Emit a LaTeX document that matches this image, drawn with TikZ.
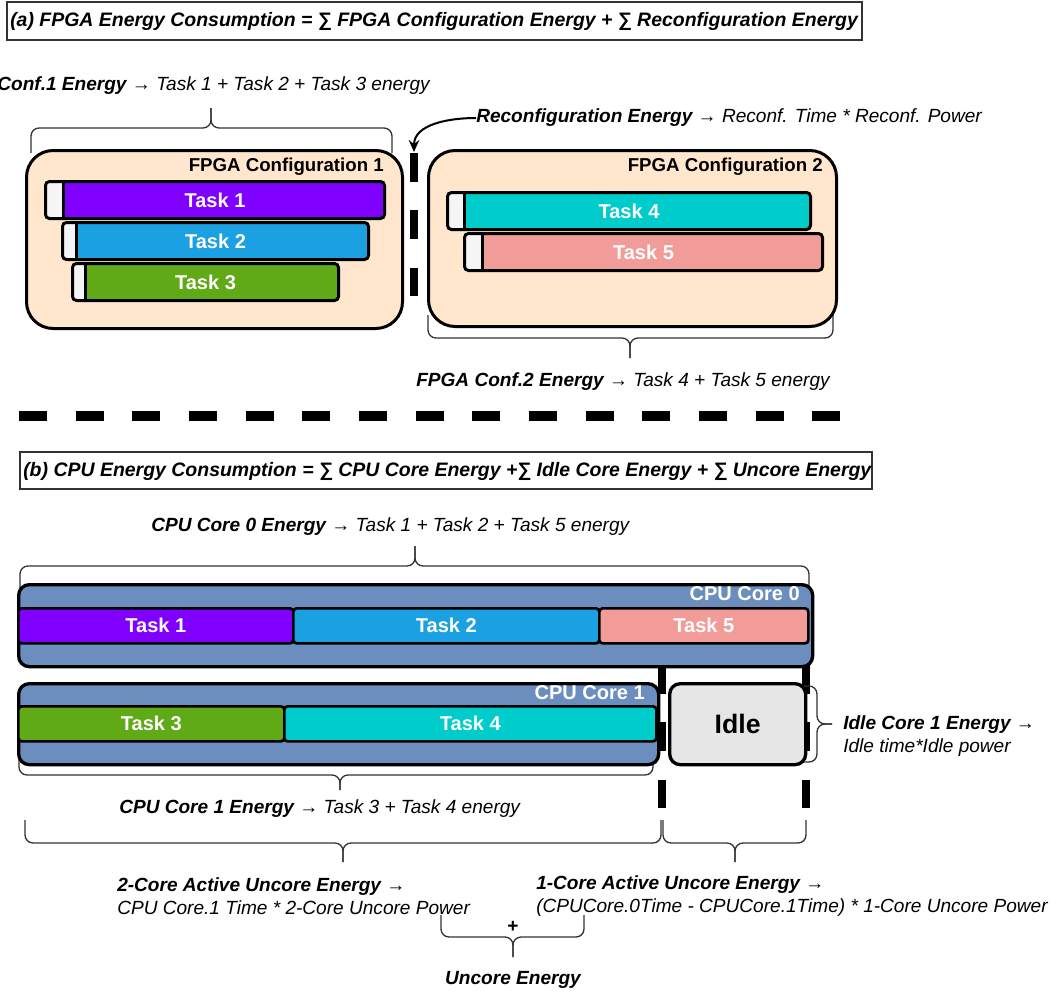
\documentclass[tikz,border=0pt]{standalone}
\usepackage{fontspec}
\setmainfont{Liberation Sans}
\usetikzlibrary{arrows.meta}
\definecolor{Peach}{HTML}{FFE6CC}
\definecolor{Purple}{HTML}{7F00FF}
\definecolor{SkyBlue}{HTML}{1BA1E2}
\definecolor{Grass}{HTML}{60A917}
\definecolor{Teal}{HTML}{00CCCC}
\definecolor{Salmon}{HTML}{F19C99}
\definecolor{CoreBlue}{HTML}{6C8EBF}
\definecolor{IdleGray}{HTML}{E6E6E6}
\definecolor{Stub}{HTML}{F5F5F5}
\newcommand{\px}{0.75pt}

\begin{document}
\begin{tikzpicture}[x=0.75pt, y=-0.75pt,
      frame/.style={draw=black!80, line width=1pt},
      ttl/.style={font=\bfseries\itshape\fontsize{14.6}{17}\selectfont, inner sep=0pt},
      ann/.style={font=\itshape\fontsize{14.3}{17.3}\selectfont, inner sep=0pt, align=left},
      brc/.style={draw=black!80, line width=1pt, rounded corners=6pt},
      cfg/.style={draw, fill=Peach, line width=2.25pt, rounded corners=20pt, anchor=north west,
                  inner sep=0pt},
      cfglbl/.style={font=\bfseries\fontsize{14}{16}\selectfont, inner sep=0pt, anchor=east},
      fbar/.style={draw, line width=2.25pt, rounded corners=3pt, anchor=north west, inner sep=0pt,
                  minimum height=37*\px, text=white, font=\bfseries\fontsize{15}{18}\selectfont,
                  path picture={
                    \fill[Stub] (path picture bounding box.north west)
                      rectangle ([xshift=#1*\px]path picture bounding box.south west);
                    \draw[line width=2pt] ([xshift=#1*\px]path picture bounding box.north west)
                      -- ([xshift=#1*\px]path picture bounding box.south west);}},
      core/.style={draw, fill=CoreBlue, line width=2.5pt, rounded corners=8pt, anchor=north west,
                  inner sep=0pt, minimum height=81*\px},
      corelbl/.style={text=white, font=\bfseries\fontsize{15}{18}\selectfont, inner sep=0pt, anchor=east},
      cbar/.style={draw, line width=2pt, rounded corners=2.5pt, anchor=north west, inner sep=0pt,
                  minimum height=35*\px, text=white, font=\bfseries\fontsize{15}{18}\selectfont},
      vdash/.style={line width=6pt, dash pattern=on 21.5pt off 21.5pt},
      hdash/.style={line width=7pt, dash pattern=on 21pt off 21.5pt},
      ar/.style={-{Stealth[length=9pt, width=8pt, inset=3pt]}, line width=1.5pt}]

    \useasboundingbox (0,0) rectangle (1059,992);

    % (a) FPGA part
    \draw[frame] (7,2) rectangle (862,40);
    \node[ttl, anchor=west] (ta) at (10,21) {(a) FPGA Energy Consumption = ∑ FPGA Configuration Energy + ∑ Reconfiguration Energy};

    \node[ann, anchor=east] (e1) at (430,86) {\textbf{Conf.1 Energy} → Task 1 + Task 2 + Task 3 energy};
    \draw[brc] (31,153) |- (211,128) -- (211,108);
    \draw[brc] (392,153) |- (211,128) -- (211,108);

    \node[cfg, minimum width=376*\px, minimum height=178*\px] (c1) at (25,149) {};
    \node[cfglbl] (c1l) at (384,167) {FPGA Configuration 1};
    \node[fbar=18, fill=Purple, minimum width=339*\px] (f1) at (44,180) {Task 1};
    \node[fbar=14, fill=SkyBlue, minimum width=306*\px] (f2) at (61,221) {Task 2};
    \node[fbar=13, fill=Grass, minimum width=266*\px] (f3) at (71,262) {Task 3};

    \draw[vdash] (414,153) -- (414,298);
    \coordinate (rc) at (414,152);
    \node[ann, anchor=west] (rt) at (476,118) {\textbf{Reconfiguration Energy} → Reconf. Time * Reconf. Power};
    \draw[ar] (rt.west) to[out=180, in=90] (rc);

    \draw[brc] (428,315) |- (630,338) -- (630,358);
    \draw[brc] (833,315) |- (630,338) -- (630,358);
    \node[cfg, minimum width=408*\px, minimum height=176*\px] (c2) at (427,149) {};
    \node[cfglbl] (c2l) at (823,167) {FPGA Configuration 2};
    \node[fbar=17, fill=Teal, minimum width=363*\px] (f4) at (446,191) {Task 4};
    \node[fbar=18, fill=Salmon, minimum width=358*\px] (f5) at (463,232) {Task 5};
    \node[ann, anchor=west] (e2) at (416,382) {\textbf{FPGA Conf.2 Energy} → Task 4 + Task 5 energy};

    \draw[hdash] (19,416) -- (840,416);

    % (b) CPU part
    \draw[frame] (20,452) rectangle (872,489);
    \node[ttl, anchor=west] (tb) at (23,471) {(b) CPU Energy Consumption = ∑ CPU Core Energy +∑ Idle Core Energy + ∑ Uncore Energy};

    \node[ann, anchor=west] (e0) at (151,527) {\textbf{CPU Core 0 Energy} → Task 1 + Task 2 + Task 5 energy};
    \draw[brc] (20,590) |- (415,566) -- (415,546);
    \draw[brc] (809,590) |- (415,566) -- (415,546);

    \draw[vdash] (662,665) -- (662,810);
    \draw[vdash] (806,665) -- (806,810);

    \draw[brc] (19,760) |- (340,775) -- (340,790);
    \draw[brc] (653,760) |- (340,775) -- (340,790);

    \node[core, minimum width=794*\px, minimum height=82*\px] (k0) at (17,583) {};
    \node[corelbl] (k0l) at (800,594) {CPU Core 0};
    \node[cbar, fill=Purple, minimum width=275*\px] (p1) at (17,607) {Task 1};
    \node[cbar, fill=SkyBlue, minimum width=306*\px] (p2) at (292,607) {Task 2};
    \node[cbar, fill=Salmon, minimum width=209*\px] (p5) at (598,607) {Task 5};

    \node[core, minimum width=640*\px] (k1) at (17,682) {};
    \node[corelbl] (k1l) at (645,693) {CPU Core 1};
    \node[cbar, fill=Grass, minimum width=266*\px] (p3) at (17,705) {Task 3};
    \node[cbar, fill=Teal, minimum width=372*\px] (p4) at (283,705) {Task 4};

    \node[core, fill=IdleGray, minimum width=136*\px, font=\bfseries\fontsize{20}{24}\selectfont] (idle) at (668,682) {Idle};

    \draw[brc] (804,686) -| (817,724) -- (832,724);
    \draw[brc] (804,762) -| (817,724) -- (832,724);
    \node[ann, anchor=west] (ei) at (843,736) {\textbf{Idle Core 1 Energy} →\\Idle time*Idle power};

    \node[ann, anchor=west] (e1c) at (119,809) {\textbf{CPU Core 1 Energy} → Task 3 + Task 4 energy};

    \draw[brc] (25,820) |- (343,843) -- (343,862);
    \draw[brc] (661,820) |- (343,843) -- (343,862);
    \draw[brc] (663,820) |- (735,843) -- (735,862);
    \draw[brc] (806,820) |- (735,843) -- (735,862);

    \node[ann, anchor=west] (u2) at (117,896) {\textbf{2-Core Active Uncore Energy} →\\CPU Core.1 Time * 2-Core Uncore Power};
    \node[ann, anchor=west] (u1) at (536,896) {\textbf{1-Core Active Uncore Energy} →\\(CPUCore.0Time - CPUCore.1Time) * 1-Core Uncore Power};

    \draw[brc] (441,915) |- (513,937) -- (513,957);
    \draw[brc] (584,915) |- (513,937) -- (513,957);
    \node[ann, font=\bfseries\fontsize{14.3}{17}\selectfont] (pl) at (513,927) {+};
    \node[ann, font=\bfseries\itshape\fontsize{14.3}{17}\selectfont] (ue) at (513,980) {Uncore Energy};
  \end{tikzpicture}
\end{document}
